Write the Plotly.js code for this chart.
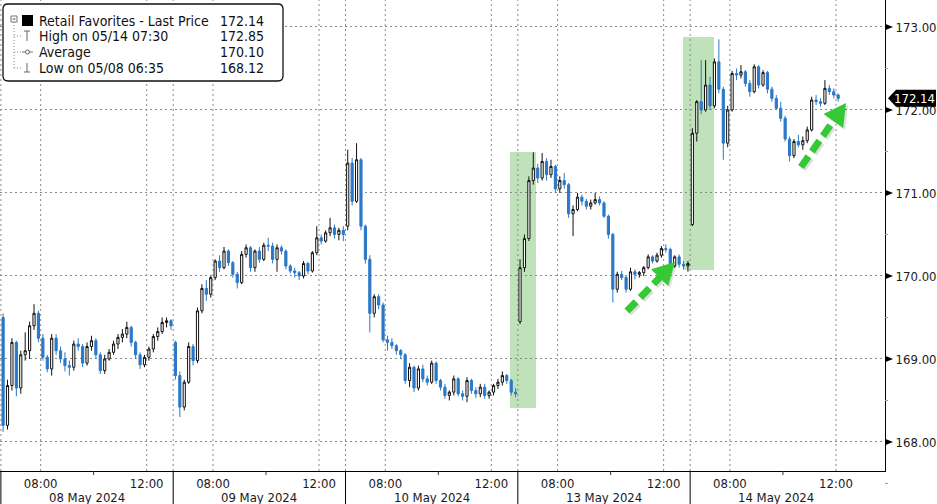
<!DOCTYPE html>
<html><head><meta charset="utf-8">
<script src="https://cdn.plot.ly/plotly-3.0.1.min.js"></script>
<style>html,body{margin:0;padding:0;background:#fff}#chart{width:937px;height:504px}</style>
</head><body><div id="chart"></div>
<script>
// ---------------- DATA ----------------
const dayLabels = ['08 May 2024','09 May 2024','10 May 2024','13 May 2024','14 May 2024'];
const barsPerDay = [39, 39, 39, 39, 34];          // 10-minute bars, session 06:30-13:00
const timeTickLabels = ['08:00', '12:00'];
const priceTicks = [168, 169, 170, 171, 172, 173];
const legendNames = ['Retail Favorites - Last Price', 'High on 05/14 07:30', 'Average', 'Low on 05/08 06:35'];
const legendValues = ['172.14', '172.85', '170.10', '168.12'];
const lastPrice = 172.14;

const openP = [
 169.50,168.20,168.68,169.20,168.65,169.05,169.10,169.40,169.55,169.25,169.02,168.88,169.25,169.10,169.00,168.92,168.90,169.18,169.15,168.95,169.15,169.22,169.05,168.86,169.00,169.08,169.18,169.26,169.30,169.38,169.20,169.05,168.93,169.02,169.12,169.27,169.33,169.44,169.46,
 169.20,168.80,168.42,168.72,169.15,168.98,169.58,169.85,169.78,169.98,170.18,170.10,170.30,170.16,170.02,169.92,170.26,170.34,170.10,170.30,170.20,170.37,170.36,170.20,170.34,170.30,170.12,170.06,170.04,170.00,170.15,170.06,170.28,170.46,170.42,170.52,170.58,170.50,170.55,
 170.60,171.36,170.90,171.40,170.60,170.20,169.55,169.75,169.65,169.23,169.20,169.16,169.10,169.05,168.74,168.90,168.65,168.88,168.76,168.72,168.95,168.74,168.66,168.56,168.60,168.76,168.58,168.55,168.74,168.62,168.58,168.66,168.56,168.60,168.68,168.72,168.80,168.74,168.60,
 169.45,170.10,170.45,171.15,171.30,171.18,171.38,171.22,171.32,171.05,171.15,171.10,170.75,170.80,170.95,170.90,170.84,170.88,170.92,170.88,170.72,170.50,169.84,170.02,169.98,169.84,170.05,170.02,170.04,170.10,170.23,170.18,170.25,170.33,170.32,170.12,170.23,170.14,170.12,
 170.62,171.72,172.10,172.00,172.30,172.05,172.58,172.25,171.60,172.00,172.44,172.42,172.46,172.32,172.22,172.52,172.30,172.45,172.25,172.14,172.02,171.90,171.65,171.45,171.62,171.58,171.63,171.76,172.12,172.10,172.08,172.26,172.22,172.18
];
const highP = [
 169.55,168.75,169.25,169.22,169.10,169.32,169.45,169.66,169.58,169.30,169.05,169.30,169.30,169.15,169.08,168.98,169.22,169.25,169.18,169.20,169.28,169.25,169.08,169.05,169.12,169.22,169.30,169.36,169.45,169.40,169.22,169.08,169.05,169.15,169.30,169.38,169.50,169.50,169.48,
 169.22,168.85,168.75,169.20,169.18,169.62,169.90,169.95,170.00,170.20,170.25,170.35,170.32,170.18,170.05,170.30,170.38,170.36,170.32,170.35,170.40,170.46,170.40,170.38,170.37,170.32,170.14,170.10,170.06,170.18,170.17,170.30,170.60,170.50,170.55,170.70,170.62,170.58,170.60,
 171.52,171.42,171.60,171.42,170.62,170.25,169.78,169.78,169.68,169.28,169.25,169.18,169.12,169.07,168.95,168.92,168.92,168.93,168.80,168.98,168.97,168.76,168.70,168.62,168.80,168.78,168.62,168.78,168.76,168.66,168.70,168.70,168.62,168.70,168.76,168.85,168.82,168.76,168.65,
 170.20,170.50,171.20,171.49,171.35,171.48,171.42,171.40,171.34,171.20,171.24,171.12,170.85,171.00,170.98,170.93,170.92,171.00,170.96,170.90,170.74,170.52,170.05,170.06,170.00,170.10,170.08,170.06,170.12,170.26,170.25,170.28,170.36,170.38,170.34,170.25,170.26,170.18,170.18,
 171.78,172.12,172.60,172.60,172.40,172.62,172.85,172.28,172.05,172.47,172.50,172.54,172.48,172.36,172.55,172.54,172.48,172.47,172.28,172.18,172.10,171.93,171.68,171.65,171.70,171.68,171.80,172.16,172.18,172.14,172.36,172.30,172.26,172.20
];
const lowP = [
 168.12,168.15,168.62,168.55,168.58,168.98,169.00,169.35,169.20,168.98,168.84,168.80,169.05,168.95,168.85,168.80,168.86,169.10,168.90,168.92,169.10,169.00,168.82,168.82,168.98,169.05,169.12,169.20,169.25,169.15,169.00,168.88,168.90,168.98,169.08,169.22,169.30,169.38,169.35,
 168.75,168.30,168.38,168.70,168.92,168.95,169.55,169.70,169.74,169.95,170.05,170.08,170.12,169.98,169.85,169.90,170.22,170.05,170.05,170.16,170.18,170.30,170.15,170.05,170.26,170.08,170.03,169.98,169.95,169.97,170.02,170.04,170.25,170.38,170.40,170.48,170.45,170.43,170.42,
 170.55,170.85,170.88,170.55,170.15,169.32,169.50,169.60,169.20,169.10,169.12,169.05,169.00,168.70,168.66,168.60,168.62,168.72,168.68,168.70,168.70,168.62,168.52,168.50,168.56,168.55,168.50,168.48,168.58,168.53,168.54,168.52,168.52,168.56,168.64,168.68,168.70,168.56,168.54,
 169.42,170.05,170.42,171.10,171.12,171.15,171.15,171.18,171.00,171.00,171.05,170.70,170.48,170.78,170.85,170.80,170.80,170.86,170.85,170.70,170.45,169.68,169.80,169.95,169.80,169.82,169.96,169.98,170.00,170.08,170.15,170.16,170.22,170.28,170.08,170.10,170.10,170.08,170.05,
 170.60,171.62,171.95,171.98,172.00,172.02,172.20,171.40,171.55,171.98,172.36,172.38,172.28,172.16,172.20,172.26,172.28,172.20,172.10,172.00,171.86,171.62,171.38,171.42,171.55,171.52,171.60,171.74,172.06,172.04,172.06,172.18,172.14,172.10
];
const closeP = [
 168.20,168.68,169.20,168.65,169.05,169.10,169.40,169.55,169.25,169.02,168.88,169.25,169.10,169.00,168.92,168.90,169.18,169.15,168.95,169.15,169.22,169.05,168.86,169.00,169.08,169.18,169.26,169.30,169.38,169.20,169.05,168.93,169.02,169.12,169.27,169.33,169.44,169.46,169.40,
 168.80,168.42,168.72,169.15,168.98,169.58,169.85,169.78,169.98,170.18,170.10,170.30,170.16,170.02,169.92,170.26,170.34,170.10,170.30,170.20,170.37,170.36,170.20,170.34,170.30,170.12,170.06,170.04,170.00,170.15,170.06,170.28,170.46,170.42,170.52,170.58,170.50,170.55,170.50,
 171.36,170.90,171.40,170.60,170.20,169.55,169.75,169.65,169.23,169.20,169.16,169.10,169.05,168.74,168.90,168.65,168.88,168.76,168.72,168.95,168.74,168.66,168.56,168.60,168.76,168.58,168.55,168.74,168.62,168.58,168.66,168.56,168.60,168.68,168.72,168.80,168.74,168.60,168.58,
 170.10,170.45,171.15,171.30,171.18,171.38,171.22,171.32,171.05,171.15,171.10,170.75,170.80,170.95,170.90,170.84,170.88,170.92,170.88,170.72,170.50,169.84,170.02,169.98,169.84,170.05,170.02,170.04,170.10,170.23,170.18,170.25,170.33,170.32,170.12,170.23,170.14,170.12,170.15,
 171.72,172.10,172.00,172.30,172.05,172.58,172.25,171.60,172.00,172.44,172.42,172.46,172.32,172.22,172.52,172.30,172.45,172.25,172.14,172.02,171.90,171.65,171.45,171.62,171.58,171.63,171.76,172.12,172.10,172.08,172.26,172.22,172.18,172.14
];

// ---------------- AXIS GEOMETRY ----------------
const SESSION = 390, BAR = 10;            // minutes per trading day, minutes per bar
const W = 937, H = 504, MR = 52, MB = 33;
const PW = W - MR, PH = H - MB;           // plot area in px
const XR = [-2, 2001], YR = [167.65, 173.325];
const xp = p => p / PW;                    // px -> paper
const yp = p => 1 - p / PH;
const yv = v => (v - YR[0]) / (YR[1] - YR[0]); // price -> paper

// bar time positions (session minutes)
const xs = [];
barsPerDay.forEach((n, d) => { for (let i = 0; i < n; i++) xs.push(d * SESSION + i * BAR + BAR / 2); });

const FONT = '"DejaVu Sans Condensed", "Liberation Sans", sans-serif';

const trace = {
  type: 'candlestick', x: xs, open: openP, high: highP, low: lowP, close: closeP,
  increasing: { line: { color: '#111111', width: 1 }, fillcolor: '#ffffff' },
  decreasing: { line: { color: '#2a78c8', width: 1 }, fillcolor: '#2a78c8' },
  whiskerwidth: 0, hoverinfo: 'none', showlegend: false
};

const shapes = [], annotations = [];
const GRID = '#8a8a8a';

// green highlight boxes (px)
[[510, 152, 536, 408], [683, 37, 714, 270]].forEach(r => shapes.push({
  type: 'rect', xref: 'paper', yref: 'paper', x0: xp(r[0]), x1: xp(r[2]), y0: yp(r[3]), y1: yp(r[1]),
  fillcolor: '#bfe2bb', line: { width: 0 }, layer: 'below'
}));

// vertical dotted gridlines: day starts, 08:00, 12:00
const tickVals = [], tickText = [];
dayLabels.forEach((lab, d) => {
  [0, 90, 330].forEach(m => shapes.push({
    type: 'line', xref: 'x', yref: 'paper', x0: d * SESSION + m, x1: d * SESSION + m, y0: 0, y1: 1,
    line: { color: GRID, width: 1, dash: '2px,3px' }, layer: 'below'
  }));
  tickVals.push(d * SESSION + 90, d * SESSION + 330);
  tickText.push(timeTickLabels[0], timeTickLabels[1]);
  // day separators in the tick area
  shapes.push({ type: 'line', xref: 'x', yref: 'paper', x0: d * SESSION, x1: d * SESSION, y0: 0, y1: -MB / PH,
    line: { color: '#000', width: 1 } });
  // 10:00 minor tick
  shapes.push({ type: 'line', xref: 'x', yref: 'paper', x0: d * SESSION + 210, x1: d * SESSION + 210, y0: 0, y1: -4 / PH,
    line: { color: '#333', width: 1 } });
  annotations.push({ xref: 'x', yref: 'paper', x: d * SESSION + SESSION / 2, y: -26.5 / PH, yanchor: 'middle',
    text: lab, showarrow: false, font: { family: FONT, size: 13, color: '#1a1a1a' } });
});

// right-axis arrow ticks and minor ticks
priceTicks.forEach(v => {
  const y = yv(v), dy = 3.2 / PH;
  shapes.push({ type: 'path', xref: 'paper', yref: 'paper',
    path: `M ${xp(PW)} ${y + dy} L ${xp(PW + 8)} ${y} L ${xp(PW)} ${y - dy} Z`,
    fillcolor: '#000', line: { width: 0 } });
  const h = yv(v - 0.5);
  shapes.push({ type: 'line', xref: 'paper', yref: 'paper', x0: xp(PW), x1: xp(PW + 3), y0: h, y1: h,
    line: { color: '#999', width: 1 } });
});

// green dashed arrows
function arrow(t, h) {
  const dx = h[0] - t[0], dy = h[1] - t[1], L = Math.hypot(dx, dy), ux = dx / L, uy = dy / L;
  const hl = 22, hw = 12, bx = h[0] - ux * hl, by = h[1] - uy * hl, nx = -uy, ny = ux;
  const col = '#35c935';
  [[2, 2, 'rgba(0,0,0,0.13)'], [0, 0, col]].forEach(([ox, oy, c]) => {
    shapes.push({ type: 'line', xref: 'paper', yref: 'paper', x0: xp(t[0] + ox), y0: yp(t[1] + oy),
      x1: xp(bx + ux * 2 + ox), y1: yp(by + uy * 2 + oy), line: { color: c, width: 7, dash: '13px,6px' }, layer: 'above' });
    shapes.push({ type: 'path', xref: 'paper', yref: 'paper', fillcolor: c, line: { width: 0 }, layer: 'above',
      path: `M ${xp(h[0] + ox)} ${yp(h[1] + oy)} L ${xp(bx + nx * hw + ox)} ${yp(by + ny * hw + oy)} L ${xp(bx - nx * hw + ox)} ${yp(by - ny * hw + oy)} Z` });
  });
}
arrow([627, 311], [675, 262]);
arrow([801, 167], [846, 103]);

// legend box
(function () {
  const x0 = 3, y0 = 4, x1 = 283, y1 = 81, r = 5;
  const P = (x, y) => `${xp(x)} ${yp(y)}`;
  shapes.push({ type: 'path', xref: 'paper', yref: 'paper', fillcolor: '#fff', line: { color: '#111', width: 1.3 }, layer: 'above',
    path: `M ${P(x0 + r, y0)} L ${P(x1 - r, y0)} Q ${P(x1, y0)} ${P(x1, y0 + r)} L ${P(x1, y1 - r)} Q ${P(x1, y1)} ${P(x1 - r, y1)} L ${P(x0 + r, y1)} Q ${P(x0, y1)} ${P(x0, y1 - r)} L ${P(x0, y0 + r)} Q ${P(x0, y0)} ${P(x0 + r, y0)} Z` });
  const ln = (ax, ay, bx, by, c, dash) => shapes.push({ type: 'line', xref: 'paper', yref: 'paper', layer: 'above',
    x0: xp(ax), y0: yp(ay), x1: xp(bx), y1: yp(by), line: { color: c || '#777', width: 1, dash: dash || 'solid' } });
  ln(14, 22, 14, 68, '#888', '1px,2px');
  [36, 52, 68].forEach(y => ln(14, y, 21, y, '#888', '1px,2px'));
  shapes.push({ type: 'rect', xref: 'paper', yref: 'paper', layer: 'above', x0: xp(11), x1: xp(17), y0: yp(22), y1: yp(16),
    fillcolor: '#fff', line: { color: '#777', width: 1 } });
  ln(12.5, 19, 15.5, 19, '#555');
  shapes.push({ type: 'rect', xref: 'paper', yref: 'paper', layer: 'above', x0: xp(22), x1: xp(33), y0: yp(26), y1: yp(15),
    fillcolor: '#000', line: { width: 0 } });
  ln(24, 31, 30, 31, '#666'); ln(27, 31, 27, 41, '#666');
  ln(22, 52, 33, 52, '#777');
  shapes.push({ type: 'circle', xref: 'paper', yref: 'paper', layer: 'above', x0: xp(25.5), x1: xp(29.5), y0: yp(54), y1: yp(50),
    fillcolor: '#fff', line: { color: '#666', width: 1 } });
  ln(27, 63, 27, 72, '#666'); ln(24, 72, 30, 72, '#666');
  [21, 36.5, 52, 68].forEach((y, k) => {
    annotations.push({ xref: 'paper', yref: 'paper', x: xp(37), y: yp(y), xanchor: 'left', yanchor: 'middle',
      text: legendNames[k], showarrow: false, font: { family: FONT, size: 14, color: '#111' } });
    annotations.push({ xref: 'paper', yref: 'paper', x: xp(218), y: yp(y), xanchor: 'left', yanchor: 'middle',
      text: legendValues[k], showarrow: false, font: { family: FONT, size: 14, color: '#111' } });
  });
})();

// last price tag
(function () {
  const yc = PH * (1 - yv(lastPrice)), t = yc - 8.5, b = yc + 8.5;
  const P = (x, y) => `${xp(x)} ${yp(y)}`;
  shapes.push({ type: 'path', xref: 'paper', yref: 'paper', fillcolor: '#000', line: { width: 0 }, layer: 'above',
    path: `M ${P(888, yc)} L ${P(896, t)} L ${P(936, t)} L ${P(936, b)} L ${P(896, b)} Z` });
  annotations.push({ xref: 'paper', yref: 'y', x: xp(915), y: lastPrice, xanchor: 'center', yanchor: 'middle',
    text: lastPrice.toFixed(2), showarrow: false, font: { family: FONT, size: 13, color: '#fff' } });
})();

const layout = {
  width: W, height: H, margin: { l: 0, r: MR, t: 0, b: MB, pad: 0 },
  paper_bgcolor: '#ffffff', plot_bgcolor: 'rgba(0,0,0,0)', showlegend: false,
  xaxis: { type: 'linear', range: XR, fixedrange: true, showgrid: false, zeroline: false,
    showline: true, linecolor: '#000', linewidth: 1, mirror: false,
    tickmode: 'array', tickvals: tickVals, ticktext: tickText, ticks: '',
    tickfont: { family: FONT, size: 13, color: '#1a1a1a' }, rangeslider: { visible: false } },
  yaxis: { side: 'right', range: YR, fixedrange: true, zeroline: false,
    showline: true, linecolor: '#000', linewidth: 1,
    tickmode: 'array', tickvals: priceTicks, ticktext: priceTicks.map(v => v.toFixed(2)),
    ticks: 'outside', ticklen: 7, tickcolor: 'rgba(0,0,0,0)',
    showgrid: true, gridcolor: GRID, gridwidth: 1, griddash: '2px,3px',
    tickfont: { family: FONT, size: 13, color: '#1a1a1a' } },
  shapes: shapes, annotations: annotations
};

Plotly.newPlot('chart', [trace], layout, { staticPlot: true, displayModeBar: false });
</script>
</body></html>
